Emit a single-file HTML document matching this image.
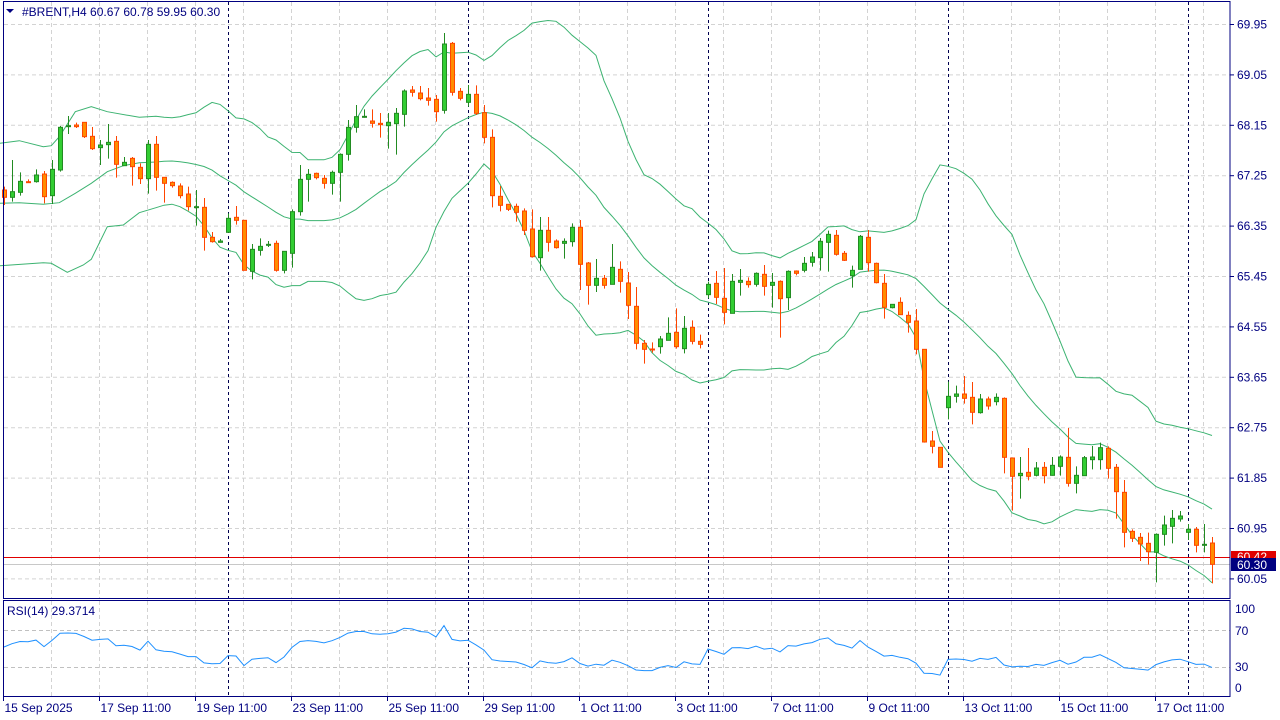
<!DOCTYPE html>
<html><head><meta charset="utf-8"><style>
html,body{margin:0;padding:0;background:#fff;}
svg{display:block;font-family:"Liberation Sans",Tahoma,sans-serif;}
</style></head><body>
<svg id="s" width="1280" height="720" xmlns="http://www.w3.org/2000/svg">
<rect width="1280" height="720" fill="#fff"/>
<g id="grid"></g>
<g id="bands"></g>
<g id="cand"></g>
<g id="rsi"></g>
<g id="axes"></g>
</svg>
<script>
var NS="http://www.w3.org/2000/svg";
function el(p,t,a,txt){var e=document.createElementNS(NS,t);for(var k in a)e.setAttribute(k,a[k]);if(txt!=null)e.textContent=txt;document.getElementById(p).appendChild(e);return e;}
var s1=[[510,532,500,555],[532,515,420,545],[517,484,457,527],[485,487,478,488],[485,465,448,488],[462,530,453,550],[527,448,420,552],[450,322,318,455],[318,317,288,342],[315,320,308,324],
[307,350,306,354],[349,386,321,390],[383,375,360,435],[374,367,312,416],[364,433,348,473],[437,427,411,437],[415,440,411,497],[442,476,430,492],[476,373,360,521],[373,472,348,512],
[472,490,472,548],[487,497,484,503],[498,527,490,535],[522,560,500,572],[562,560,510,617],[562,652,534,692],[652,665,636,668],[667,663,657,668],[637,595,580,637],[592,601,558,614],
[601,751,601,751],[754,688,672,778],[691,679,655,707],[676,673,663,681],[670,751,662,755],[751,694,694,760],[700,575,568,743],[575,478,435,587],[478,463,447,545],[460,473,458,478],
[475,490,465,506],[490,457,452,524],[457,403,400,545],[403,322,300,422],[322,290,255,338],[291,289,268,293],[303,310,268,323],[310,314,279,353],[317,307,279,386],[311,280,264,404],
[283,213,208,320],[210,217,198,230],[219,236,198,241],[234,241,204,257],[238,275,225,305],[271,72,39,281],[70,217,66,227],[214,235,204,241],[247,223,195,260],[223,280,196,285]];
var s2=[[38,112,15,130],[112,287,88,322],[289,316,258,334],[313,328,313,333],[319,337,311,365],[333,391,325,405],[387,470,328,473],[473,391,351,512],[391,427,351,455],[423,443,418,446],
[430,424,415,476],[425,382,370,440],[382,493,360,570],[489,556,486,614],[556,535,477,576],[535,556,525,566],[553,502,432,553],[508,544,484,578],[549,616,516,657],[619,730,561,748],
[730,748,720,791],[747,748,727,758],[740,717,708,761],[721,700,652,721],[697,740,625,746],[746,685,648,760],[682,724,661,733],[724,733,704,745],[584,553,545,595],[550,592,513,612],
[595,637,504,673],[640,544,522,640],[547,541,507,587],[544,554,532,563],[553,520,517,560],[523,559,495,587],[556,547,519,623],[544,596,541,713],[593,514,511,630],[513,520,511,526],
[511,490,471,517],[487,471,456,500],[473,424,414,512],[427,403,392,515],[406,463,390,467],[460,481,453,483],[527,511,497,563],[508,409,405,508]];
var s3=[[52,128,30,155],[130,188,128,190],[190,262,162,296],[263,253,252,265],[247,284,232,284],[286,307,274,338],[303,388,267,403],[388,666,388,668],[663,679,633,700],[682,742,682,742],
[563,529,485,598],[529,522,497,548],[522,535,468,551],[532,577,486,613],[578,537,522,581],[537,558,530,569],[545,532,520,556],[535,712,532,760],[714,769,712,872],[767,760,711,836],
[757,769,684,781],[766,744,726,769],[742,767,726,790],[766,736,711,767],[739,711,706,767],[712,790,624,800],[790,766,739,820],[767,713,708,767],[719,711,678,748],[719,683,668,749],
[685,745,679,776],[742,815,732,896],[817,937,780,982],[934,955,928,966],[952,972,939,1023],[970,995,938,1034],[997,943,940,1087],[943,915,887,977],[919,895,870,970],[897,888,873,905],
[937,928,912,960],[928,976,921,997],[975,973,912,997],[969,1033,951,1090]];
var D=[];
s1.forEach(function(r){D.push(r.map(function(v){return 20+v/3;}));});
s2.forEach(function(r){D.push(r.map(function(v){return 100+v/3;}));});
s3.forEach(function(r){D.push(r.map(function(v){return 220+v/3;}));});
function X(i){return 4+8*i;}
for(var k=1;k<=25;k++){var gx=3.5+48*k;if(gx<1230)el('grid','line',{x1:gx,y1:2,x2:gx,y2:598,stroke:'#d3d3d3','stroke-dasharray':'4,3'});}
for(var k=1;k<=25;k++){var gx=3.5+48*k;if(gx<1230)el('grid','line',{x1:gx,y1:601,x2:gx,y2:696,stroke:'#d3d3d3','stroke-dasharray':'4,3'});}
var labs=["69.95","69.05","68.15","67.25","66.35","65.45","64.55","63.65","62.75","61.85","60.95","60.05"];
for(var j=0;j<12;j++){var gy=24.5+j*50.4;el('grid','line',{x1:4,y1:gy,x2:1230,y2:gy,stroke:'#d3d3d3','stroke-dasharray':'4,3'});}
[630.5,667.5].forEach(function(gy){el('grid','line',{x1:4,y1:gy,x2:1230,y2:gy,stroke:'#c0c0c0','stroke-dasharray':'4,3'});});
[228,468,708,948,1188].forEach(function(vx){el('grid','line',{x1:vx+0.5,y1:2,x2:vx+0.5,y2:696,stroke:'#000050','stroke-dasharray':'3,3'});});
el('grid','line',{x1:4,y1:557.5,x2:1230,y2:557.5,stroke:'#e00000'});
el('grid','line',{x1:4,y1:564.5,x2:1230,y2:564.5,stroke:'#c8c8c8'});
function hand(pts){return pts.map(function(p){return [p[0]/3,20+p[1]/3];});}
var hu=hand([[0,370],[58,362],[130,380],[154,377],[178,350],[226,275],[274,260],[322,275],[418,292],[490,293],[538,290],[586,275],[634,248],[658,247],[700,275]]);
var hm=hand([[0,550],[58,548],[130,553],[178,548],[226,520],[274,490],[322,455],[370,437],[418,428],[466,425],[550,430],[600,445],[700,480]]);
var hl=hand([[0,737],[130,728],[154,730],[202,757],[250,735],[274,718],[322,620],[370,615],[418,578],[466,565],[520,552],[560,570],[650,670],[700,695]]);
var U=[],M=[],L=[];
for(var i=19;i<D.length;i++){var sum=0;for(var j=i-19;j<=i;j++)sum+=D[j][1];var m=sum/20;var v=0;for(var j=i-19;j<=i;j++)v+=(D[j][1]-m)*(D[j][1]-m);var sd=Math.sqrt(v/20);
U.push([X(i),m-2*sd]);M.push([X(i),m]);L.push([X(i),m+2*sd]);}
function pl(a){return a.map(function(p){return p[0].toFixed(1)+','+p[1].toFixed(1);}).join(' ');}
function joinH(h,c){var x0=c[0][0];var out=h.filter(function(p){return p[0]<x0-8;});return out.concat(c);}
[joinH(hu,U),joinH(hm,M),joinH(hl,L)].forEach(function(a){el('bands','polyline',{points:pl(a),fill:'none',stroke:'#3cb371','stroke-width':1});});
D.forEach(function(r,i){var o=r[0],c=r[1],h=r[2],l=r[3];var up=c<o||(c==o);var x=X(i);
var lc=up?'#228b22':'#ff4500',fc=up?'#32cd32':'#ff8c00';
el('cand','line',{x1:x+0.5,y1:h,x2:x+0.5,y2:l,stroke:lc});
var t=Math.min(o,c),b=Math.max(o,c);if(b-t<1)b=t+1;
el('cand','rect',{x:x-1.5,y:t,width:4,height:b-t,fill:fc,stroke:lc});});
function P(y){return 69.95-(y-24)/56;}
var ag=0.14,al=0.12,R=[];
for(var i=1;i<D.length;i++){var d=P(D[i][1])-P(D[i-1][1]);var g=d>0?d:0,lo=d<0?-d:0;ag=(ag*13+g)/14;al=(al*13+lo)/14;var rs=al==0?100:100-100/(1+ag/al);R.push([X(i),667-(rs-30)*37/40]);}
R.unshift([X(0),647]);
el('rsi','polyline',{points:pl(R),fill:'none',stroke:'#1e90ff','stroke-width':1});
el('axes','rect',{x:3.5,y:1.5,width:1226.5,height:597,fill:'none',stroke:'#000080'});
el('axes','rect',{x:3.5,y:600.5,width:1226.5,height:96,fill:'none',stroke:'#000080'});
for(var j=0;j<12;j++){var gy=24.5+j*50.4;el('axes','line',{x1:1230,y1:gy,x2:1234,y2:gy,stroke:'#000080'});el('axes','text',{x:1237,y:gy+4,'font-size':12,fill:'#000080'},labs[j]);}
el('axes','rect',{x:1231,y:551,width:45,height:12,fill:'#e00000'});
el('axes','text',{x:1237,y:561,'font-size':12,fill:'#fff'},'60.42');
el('axes','rect',{x:1231,y:558,width:45,height:13,fill:'#000080'});
el('axes','text',{x:1237,y:569,'font-size':12,fill:'#fff'},'60.30');
[[100,609],[70,631],[30,667],[0,688]].forEach(function(a){el('axes','text',{x:1235,y:a[1]+4,'font-size':12,fill:'#000080'},String(a[0]));});
el('axes','text',{x:7,y:615,'font-size':12,fill:'#000080'},'RSI(14) 29.3714');
el('axes','path',{d:'M6,9 L14,9 L10,13 Z',fill:'#000080'});
el('axes','text',{x:22,y:16,'font-size':12,fill:'#000080','xml:space':'preserve'},'#BRENT,H4  60.67 60.78 59.95 60.30');
var xl=["15 Sep 2025","17 Sep 11:00","19 Sep 11:00","23 Sep 11:00","25 Sep 11:00","29 Sep 11:00","1 Oct 11:00","3 Oct 11:00","7 Oct 11:00","9 Oct 11:00","13 Oct 11:00","15 Oct 11:00","17 Oct 11:00"];
xl.forEach(function(t,k){var tx=3.5+96*k;el('axes','line',{x1:tx,y1:697,x2:tx,y2:701,stroke:'#000080'});el('axes','text',{x:tx+1,y:712,'font-size':12,fill:'#000080'},t);});
</script>
</body></html>
